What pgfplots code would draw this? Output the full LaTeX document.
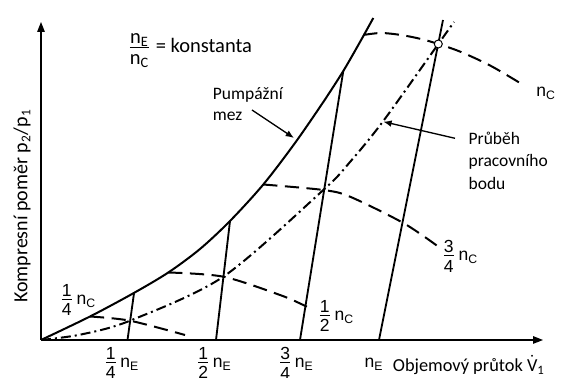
\documentclass[border=0pt]{standalone}
\usepackage{amsmath}
\usepackage{fontspec}
\setmainfont{Carlito}
\newfontfamily\arial{Liberation Sans}
\usepackage{pgfplots}
\pgfplotsset{compat=1.18}
\usetikzlibrary{arrows.meta}

% stacked fraction with text-font digits
\newcommand\fr[2]{\ensuremath{\genfrac{}{}{0.6pt}{1}{\hbox{\rule[-1.3pt]{0pt}{0pt}#1}}{\hbox{\rule{0pt}{8.8pt}#2}}}}
\newcommand\nsub[1]{n\textsubscript{#1}}

\begin{document}
\begin{tikzpicture}
\path[use as bounding box] (-24.6pt,-22.8pt) rectangle (315pt,204pt);
\begin{axis}[
  x=0.6pt, y=0.6pt,
  xmin=0, xmax=502, ymin=0, ymax=318,
  axis lines=left,
  axis line style={line width=0.8pt, -{Triangle[length=6pt,width=4.5pt]}},
  xtick=\empty, ytick=\empty,
  clip=false,
]
% surge limit
\addplot[line width=1.2pt, smooth] coordinates {
  (0,0) (49,23.5) (92.3,46.7) (127.3,67.5) (159,91) (189,119)
  (222.3,155.5) (254,197) (282.3,238) (302.3,269) (319,298) (332.3,322)};
% operating line
\addplot[line width=1.2pt, smooth,
  dash pattern=on 6pt off 2.4pt on 1.2pt off 2.4pt] coordinates {
  (0,0) (40,5.5) (89,19.3) (182.3,63.3) (282.3,150) (309,178)
  (342.3,219) (397.3,296) (413,318)};
% constant compressor speed
\addplot[line width=1.2pt, smooth, dash pattern=on 8.5pt off 4.5pt] coordinates {
  (49,23.5) (89,19.3) (144,5)};
\addplot[line width=1.2pt, smooth, dash pattern=on 8.5pt off 4.5pt] coordinates {
  (127.3,67.5) (182.3,63.3) (239,45) (262.3,35) (272.3,30)};
\addplot[line width=1.2pt, smooth, dash pattern=on 8.5pt off 4.5pt] coordinates {
  (222.3,155.5) (282.3,150) (309,143.3) (362.3,117) (395.7,94.5)};
\addplot[line width=1.2pt, smooth, dash pattern=on 8.5pt off 4.5pt] coordinates {
  (322.3,305) (340,307) (360,305) (380,301) (397.3,296) (420,288)
  (450,274) (482.3,255)};
% constant turbine speed
\addplot[line width=1.1pt] coordinates {(86.5,0) (93,46.7)};
\addplot[line width=1.1pt] coordinates {(175,0) (189,119)};
\addplot[line width=1.1pt] coordinates {(259,0) (302.3,269)};
\addplot[line width=1.1pt] coordinates {(338,0) (402,320)};
% design point
\addplot[only marks, mark=*, mark size=2.4pt,
  mark options={fill=white, draw=black, line width=0.6pt}] coordinates {(397.3,296)};

% labels
\node[anchor=base west, font=\fontsize{12.3}{14}\selectfont] at (axis cs:81,287)
  {\fr{\nsub{E}}{\nsub{C}} = konstanta};
\node[anchor=west, align=left, font=\fontsize{10.5}{12.6}\selectfont] at (axis cs:166,235.5)
  {Pumpážní\\mez};
\draw[line width=0.8pt, -{Latex[length=5pt,width=4pt]}] (axis cs:211,230) -- (axis cs:253,202);
\node[anchor=west, align=left, font=\fontsize{10.5}{13.5}\selectfont] at (axis cs:421.7,179.5)
  {Průběh\\pracovního\\bodu};
\draw[line width=0.8pt, -{Latex[length=5pt,width=4pt]}] (axis cs:414,201.7) -- (axis cs:342.3,218.3);

\begin{scope}[font=\arial\fontsize{10.5}{12}\selectfont]
\node at (axis cs:37,40) {\fr{1}{4}\,\nsub{C}};
\node at (axis cs:295,24) {\fr{1}{2}\,\nsub{C}};
\node at (axis cs:419,84) {\fr{3}{4}\,\nsub{C}};
\node at (axis cs:505,247) {\nsub{C}};
\node at (axis cs:80.5,-23) {\fr{1}{4}\,\nsub{E}};
\node at (axis cs:173,-23) {\fr{1}{2}\,\nsub{E}};
\node at (axis cs:255,-23) {\fr{3}{4}\,\nsub{E}};
\node at (axis cs:333,-24) {\nsub{E}};
\end{scope}
\node[anchor=west, font=\fontsize{11}{13}\selectfont] at (axis cs:346,-25)
  {Objemový průtok \ensuremath{\dot{\hbox{V}}}\textsubscript{1}};
\node[rotate=90, font=\fontsize{12}{14}\selectfont] at (axis cs:-19,134)
  {Kompresní poměr p\textsubscript{2}/p\textsubscript{1}};
\end{axis}
\end{tikzpicture}
\end{document}
